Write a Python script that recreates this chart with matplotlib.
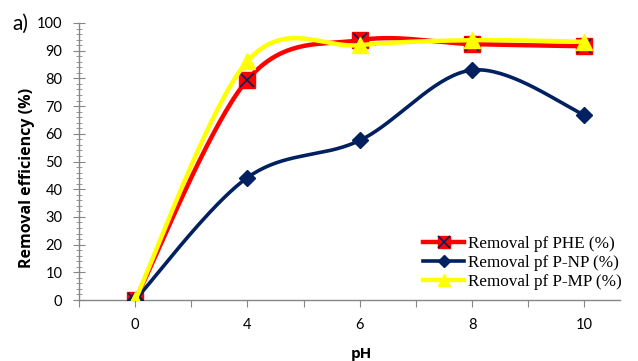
import numpy as np
import matplotlib
matplotlib.use("Agg")
import matplotlib.pyplot as plt
from matplotlib.lines import Line2D

ph_labels = ["0", "4", "6", "8", "10"]
phe = [0, 79.5, 93.8, 92.4, 91.6]
pnp = [0, 44.2, 57.6, 83.0, 66.8]
pmp = [0, 86.2, 92.0, 93.8, 93.2]


def smooth(xs, ys, n=40):
    # Bezier smoothing through every point, the way spreadsheet charts do it
    pts = np.column_stack([xs, ys]).astype(float)
    ext = np.vstack([pts[0], pts, pts[-1]])
    out = []
    for i in range(len(pts) - 1):
        p0, p3 = ext[i + 1], ext[i + 2]
        c1 = p0 + (ext[i + 2] - ext[i]) / 6.0
        c2 = p3 - (ext[i + 3] - ext[i + 1]) / 6.0
        t = np.linspace(0, 1, n)[:, None]
        seg = ((1 - t) ** 3) * p0 + 3 * ((1 - t) ** 2) * t * c1 \
            + 3 * (1 - t) * t ** 2 * c2 + t ** 3 * p3
        out.append(seg if i == 0 else seg[1:])
    seg = np.vstack(out)
    return seg[:, 0], seg[:, 1]


W, H = 638, 361
fig = plt.figure(figsize=(W / 100, H / 100), dpi=100)
ax = fig.add_axes([79 / W, 61 / H, (620 - 79) / W, 277 / H])

x = np.arange(len(ph_labels))
red, navy, yellow = "#FF0000", "#002060", "#FFFF00"

sx, sy = smooth(x, phe)
ax.plot(sx, sy, color=red, lw=3.2, zorder=2, solid_capstyle="round")
ax.plot(x, phe, ls="none", marker="s", ms=11, mfc=red, mec=red, zorder=3)
ax.plot(x, phe, ls="none", marker="x", ms=10, mec=navy, mew=1.2, zorder=3)

sx, sy = smooth(x, pnp)
ax.plot(sx, sy, color=navy, lw=2.6, zorder=4, solid_capstyle="round")
ax.plot(x, pnp, ls="none", marker="D", ms=8, mfc=navy, mec=navy, zorder=5)

sx, sy = smooth(x, pmp)
ax.plot(sx, sy, color=yellow, lw=3.2, zorder=6, solid_capstyle="round")
ax.plot(x, pmp, ls="none", marker="^", ms=12, mfc=yellow, mec=yellow, zorder=7)

ax.set_xlim(-0.5, (620 - 79) / 112.3 - 0.5)
ax.set_ylim(0, 100)
ax.set_yticks(np.arange(0, 101, 10))
ax.set_yticks(np.arange(0, 101, 2), minor=True)
ax.set_xticks(np.arange(-0.5, 4.4, 0.5))
ax.set_xticklabels(["" if v % 1 else ph_labels[int(v)]
                    for v in np.arange(-0.5, 4.4, 0.5)])

axis_gray = "#868686"
for s in ["top", "right"]:
    ax.spines[s].set_visible(False)
for s in ["left", "bottom"]:
    ax.spines[s].set_color(axis_gray)
    ax.spines[s].set_linewidth(1.0)
    ax.spines[s].set_zorder(1)

tick_font = "Lato"
ax.tick_params(axis="y", which="major", direction="inout", length=8,
               color=axis_gray, labelsize=10.5, pad=8)
ax.tick_params(axis="y", which="minor", direction="inout", length=5,
               color=axis_gray)
ax.tick_params(axis="x", which="major", direction="out", length=5,
               color=axis_gray, labelsize=10.5, pad=8)
for lab in ax.get_xticklabels() + ax.get_yticklabels():
    lab.set_fontfamily(tick_font)

# axis titles sit where the full-width category axis would centre them
fig.text(27 / W, 1 - 178 / H, "Removal efficiency (%)", rotation=90,
         fontsize=11.5, fontweight="bold", family="Open Sans",
         ha="center", va="center")
fig.text(361 / W, 1 - 354 / H, "pH", fontsize=11, fontweight="bold",
         family="Open Sans", ha="center", va="center")

fig.text(12 / W, 1 - 24 / H, "a)", fontsize=15, family=tick_font,
         va="center", ha="left")

handles = [
    (Line2D([], [], color=red, lw=3.2, marker="s", ms=9, mfc=red, mec=red),
     Line2D([], [], ls="none", marker="x", ms=8, mec=navy, mew=1.2)),
    Line2D([], [], color=navy, lw=2.6, marker="D", ms=6, mfc=navy, mec=navy),
    Line2D([], [], color=yellow, lw=3.2, marker="^", ms=9, mfc=yellow,
           mec=yellow),
]
labels = ["Removal pf PHE (%)", "Removal pf P-NP (%)", "Removal pf P-MP (%)"]
ax.legend(handles, labels, loc="upper left",
          bbox_to_anchor=((420 - 79) / (620 - 79), (300 - 233) / 277),
          frameon=False, prop={"family": "Liberation Serif", "size": 12.3},
          handlelength=2.4, handletextpad=0.2, labelspacing=0.15,
          borderpad=0.2, borderaxespad=0)

fig.savefig("out.png", dpi=100)
